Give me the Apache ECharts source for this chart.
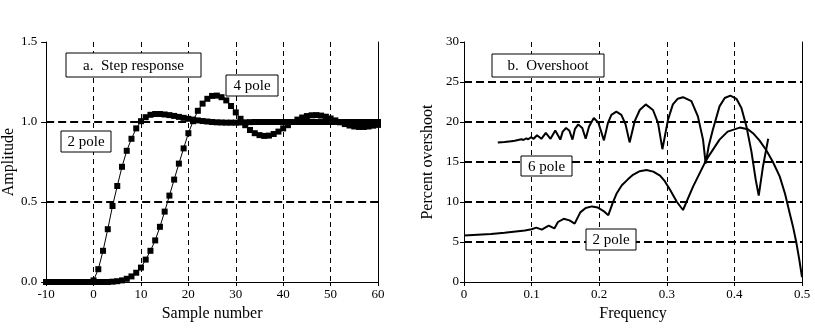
<!DOCTYPE html>
<html><head><meta charset="utf-8">
<script src="https://cdn.jsdelivr.net/npm/echarts@6/dist/echarts.min.js"></script>
<style>html,body{margin:0;padding:0;background:#fff}#c{width:815px;height:330px}</style>
</head><body><div id="c"></div>
<script>
// ---- Data (a. Step response) ----
const samples = [-10,-9,-8,-7,-6,-5,-4,-3,-2,-1,0,1,2,3,4,5,6,7,8,9,10,11,12,13,14,15,16,17,18,19,20,21,22,23,24,25,26,27,28,29,30,31,32,33,34,35,36,37,38,39,40,41,42,43,44,45,46,47,48,49,50,51,52,53,54,55,56,57,58,59,60];
const twoPoleStep = [0,0,0,0,0,0,0,0,0,0,
  0.01,0.08,0.195,0.33,0.475,0.60,0.72,0.82,0.895,0.96,
  1.005,1.03,1.045,1.05,1.05,1.047,1.043,1.038,1.032,1.026,
  1.02,1.015,1.01,1.006,1.003,1.0,0.998,0.997,0.996,0.996,
  0.996,0.997,0.998,0.999,1.0,1.0,1.0,1.0,1.0,1.0,
  1.0,1.0,1.0,1.0,1.0,1.0,1.0,1.0,1.0,1.0,
  1.0,1.0,1.0,1.0,1.0,1.0,1.0,1.0,1.0,1.0,1.0];
const fourPoleStep = [0,0,0,0,0,0,0,0,0,0,
  0,0,0,0,0.002,0.005,0.01,0.02,0.035,0.058,
  0.09,0.14,0.195,0.26,0.345,0.44,0.54,0.64,0.74,0.835,
  0.93,1.005,1.07,1.115,1.145,1.163,1.165,1.155,1.135,1.10,
  1.06,1.02,0.98,0.95,0.93,0.918,0.913,0.915,0.925,0.94,
  0.96,0.98,1.0,1.015,1.028,1.037,1.042,1.043,1.04,1.033,
  1.022,1.01,0.998,0.987,0.978,0.972,0.969,0.969,0.972,0.977,0.982];
const stepXTicks = {min:-10, max:60, interval:10};
const stepYTicks = {min:0, max:1.5, interval:0.5};

// ---- Data (b. Overshoot): [frequency, percent overshoot] ----
const sixPoleOvershoot = [[0.05,17.45],[0.06,17.5],[0.07,17.6],[0.075,17.65],[0.08,17.75],
  [0.085,17.85],[0.088,17.75],[0.092,17.95],[0.095,17.85],[0.099,18.1],
  [0.103,17.9],[0.108,18.35],[0.1145,17.9],[0.121,18.65],[0.128,17.9],
  [0.135,18.95],[0.1425,17.8],[0.146,18.8],[0.151,19.25],[0.156,18.9],
  [0.1605,17.8],[0.164,19.1],[0.169,19.7],[0.175,19.25],[0.18,17.9],
  [0.185,19.45],[0.192,20.5],[0.1988,19.9],[0.207,17.7],[0.213,19.9],
  [0.218,20.9],[0.2254,21.3],[0.2328,20.9],[0.239,19.7],[0.245,17.45],
  [0.2525,20.1],[0.26,21.5],[0.2688,22.2],[0.2796,21.5],[0.287,19.9],
  [0.2935,16.6],[0.3018,20.3],[0.309,22.2],[0.316,22.9],[0.324,23.1],[0.3364,22.6],
  [0.346,20.7],[0.3536,17.8],[0.3575,14.8],[0.362,17.0],[0.368,19.0],[0.378,21.95],
  [0.3857,23.0],[0.394,23.3],[0.403,22.9],[0.4104,21.75],[0.4178,19.45],
  [0.4252,16.3],[0.4315,12.8],[0.436,10.8],[0.4423,14.45],[0.45,17.9]];
const twoPoleOvershoot = [[0,5.8],[0.02,5.9],[0.04,6.0],[0.06,6.15],[0.08,6.35],[0.09,6.45],[0.1,6.6],
  [0.107,6.8],[0.115,6.55],[0.1253,7.05],[0.1337,6.7],[0.139,7.5],[0.1475,7.9],[0.156,7.7],
  [0.1637,7.3],[0.172,8.7],[0.18,9.25],[0.1893,9.45],[0.198,9.3],[0.206,8.9],[0.2135,8.35],
  [0.22,9.9],[0.226,11.1],[0.2335,12.1],[0.242,12.8],[0.25,13.4],[0.26,13.85],[0.27,14.0],
  [0.28,13.8],[0.29,13.3],[0.297,12.6],[0.305,11.5],[0.315,10.0],[0.324,9.0],[0.339,11.95],
  [0.3586,15.3],[0.378,17.8],[0.39,18.8],[0.4078,19.3],[0.42,19.1],[0.4275,18.6],[0.437,17.7],
  [0.447,16.5],[0.457,15.0],[0.467,13.2],[0.475,11.0],[0.4818,8.6],[0.487,6.8],[0.4917,4.9],
  [0.496,2.8],[0.5,0.6]];
const freqTicks = {min:0, max:0.5, interval:0.1};
const pctTicks = {min:0, max:30, interval:5};

// ---- Texts ----
const FONT = 'Liberation Serif';
const labelBoxes = [
  {x:66, y:53, w:135, h:24, text:'a.  Step response', size:15},
  {x:226, y:75, w:52, h:21, text:'4 pole', size:15},
  {x:61, y:131, w:50, h:21, text:'2 pole', size:15},
  {x:492, y:54, w:112, h:23, text:'b.  Overshoot', size:15},
  {x:521, y:156, w:51, h:20, text:'6 pole', size:15},
  {x:586, y:229, w:50, h:21, text:'2 pole', size:15}
];

const chart = echarts.init(document.getElementById('c'), null, {renderer:'canvas'});
const axisText = {color:'#000', fontFamily:FONT, fontSize:13};
const nameText = {color:'#000', fontFamily:FONT, fontSize:16};

const thinDash = {show:true, showMinLine:false, showMaxLine:false, lineStyle:{color:'#000', width:1, type:[5,4]}};
const thickDash = {show:true, showMinLine:false, showMaxLine:false, lineStyle:{color:'#000', width:2, type:[8,4]}};

const option = {
  animation:false,
  backgroundColor:'#fff',
  grid:[
    {left:41, top:42, width:337, height:240},
    {left:464, top:42, width:338, height:240}
  ],
  xAxis:[
    {gridIndex:0, type:'value', min:stepXTicks.min, max:stepXTicks.max, interval:stepXTicks.interval,
     name:'Sample number', nameLocation:'middle', nameGap:23, nameTextStyle:nameText,
     axisLine:{show:true, onZero:false, lineStyle:{color:'#000', width:1}},
     axisTick:{show:true, length:4, lineStyle:{color:'#000'}},
     axisLabel:Object.assign({margin:6}, axisText),
     splitLine:thinDash},
    {gridIndex:1, type:'value', min:freqTicks.min, max:freqTicks.max, interval:freqTicks.interval,
     name:'Frequency', nameLocation:'middle', nameGap:23, nameTextStyle:nameText,
     axisLine:{show:true, onZero:false, lineStyle:{color:'#000', width:1}},
     axisTick:{show:true, length:4, lineStyle:{color:'#000'}},
     axisLabel:Object.assign({margin:6, formatter:v=>String(+v.toFixed(1))}, axisText),
     splitLine:thinDash}
  ],
  yAxis:[
    {gridIndex:0, type:'value', min:stepYTicks.min, max:stepYTicks.max, interval:stepYTicks.interval,
     name:'Amplitude', nameLocation:'middle', nameGap:24, nameTextStyle:nameText,
     axisLine:{show:true, onZero:false, lineStyle:{color:'#000', width:1}},
     axisTick:{show:true, length:5, lineStyle:{color:'#000'}},
     axisLabel:Object.assign({margin:9, formatter:v=>v.toFixed(1)}, axisText),
     splitLine:thickDash},
    {gridIndex:0, type:'value', position:'right', min:stepYTicks.min, max:stepYTicks.max, interval:stepYTicks.interval,
     axisLine:{show:true, onZero:false, lineStyle:{color:'#000', width:1}}, axisTick:{show:false}, axisLabel:{show:false}, splitLine:{show:false}},
    {gridIndex:1, type:'value', min:pctTicks.min, max:pctTicks.max, interval:pctTicks.interval,
     name:'Percent overshoot', nameLocation:'middle', nameGap:28, nameTextStyle:nameText,
     axisLine:{show:true, onZero:false, lineStyle:{color:'#000', width:1}},
     axisTick:{show:true, length:4, lineStyle:{color:'#000'}},
     axisLabel:Object.assign({margin:5}, axisText),
     splitLine:thickDash},
    {gridIndex:1, type:'value', position:'right', min:pctTicks.min, max:pctTicks.max, interval:pctTicks.interval,
     axisLine:{show:true, onZero:false, lineStyle:{color:'#000', width:1}}, axisTick:{show:false}, axisLabel:{show:false}, splitLine:{show:false}}
  ],
  series:[
    {type:'line', name:'2 pole', xAxisIndex:0, yAxisIndex:0, data:samples.map((s,i)=>[s, twoPoleStep[i]]),
     symbol:'rect', symbolSize:6, showAllSymbol:true, itemStyle:{color:'#000'}, lineStyle:{color:'#000', width:1}},
    {type:'line', name:'4 pole', xAxisIndex:0, yAxisIndex:0, data:samples.map((s,i)=>[s, fourPoleStep[i]]),
     symbol:'rect', symbolSize:6, showAllSymbol:true, itemStyle:{color:'#000'}, lineStyle:{color:'#000', width:1}},
    {type:'line', name:'6 pole', xAxisIndex:1, yAxisIndex:2, data:sixPoleOvershoot,
     showSymbol:false, lineStyle:{color:'#000', width:2}},
    {type:'line', name:'2 pole b', xAxisIndex:1, yAxisIndex:2, data:twoPoleOvershoot,
     showSymbol:false, lineStyle:{color:'#000', width:2}}
  ],
  graphic: labelBoxes.map(b => ({
    type:'group', x:b.x, y:b.y, z:100, zlevel:1,
    children:[
      {type:'rect', z:100, zlevel:1, shape:{x:0, y:0, width:b.w, height:b.h}, style:{fill:'#fff', stroke:'#000', lineWidth:1}},
      {type:'text', z:101, zlevel:1, x:b.w/2, y:b.h/2+1, style:{text:b.text, font:b.size+'px "'+FONT+'"', fill:'#000', align:'center', verticalAlign:'middle'}}
    ]
  }))
};
chart.setOption(option);
</script>
</body></html>
